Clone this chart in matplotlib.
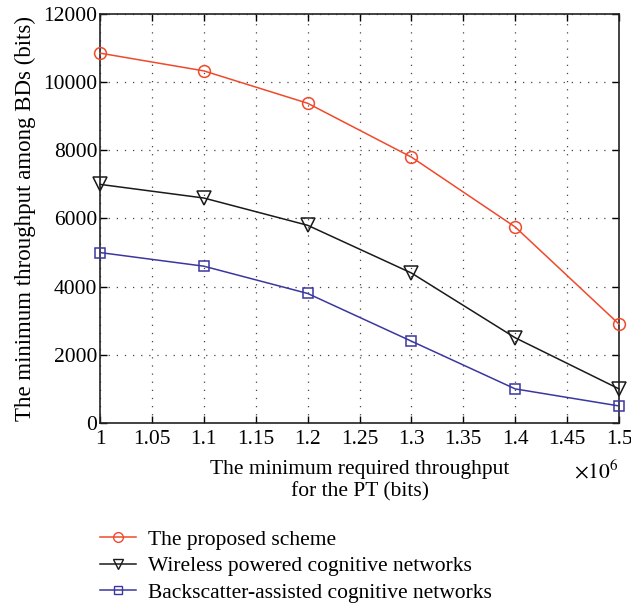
import matplotlib
matplotlib.use("Agg")
import matplotlib.pyplot as plt
from matplotlib.lines import Line2D

x_vals = [1.0, 1.1, 1.2, 1.3, 1.4, 1.5]
proposed = [10850, 10330, 9380, 7800, 5750, 2900]
wireless = [7000, 6600, 5800, 4400, 2500, 1000]
backscatter = [5000, 4600, 3800, 2400, 1000, 500]
labels = ["The proposed scheme", "Wireless powered cognitive networks",
          "Backscatter-assisted cognitive networks"]
x_ticks = [1, 1.05, 1.1, 1.15, 1.2, 1.25, 1.3, 1.35, 1.4, 1.45, 1.5]
x_tick_labels = ["1", "1.05", "1.1", "1.15", "1.2", "1.25", "1.3", "1.35", "1.4", "1.45", "1.5"]
y_ticks = [0, 2000, 4000, 6000, 8000, 10000, 12000]

plt.rcParams['font.family'] = ['Liberation Serif', 'DejaVu Serif']
plt.rcParams['mathtext.fontset'] = 'stix'
FS = 15.5

fig = plt.figure(figsize=(6.31, 6.06), dpi=100)
ax = fig.add_axes([0.1585, 0.302, 0.8225, 0.675])

red = '#f0492b'
blk = '#1a1a1a'
blu = '#3a37a0'
ax.plot(x_vals, proposed, color=red, lw=1.1, marker='o', ms=8.5, mfc='none', mec=red, mew=1.1, clip_on=False, zorder=3)
ax.plot(x_vals, wireless, color=blk, lw=1.1, marker='v', ms=10, mfc='none', mec=blk, mew=1.1, clip_on=False, zorder=3)
ax.plot(x_vals, backscatter, color=blu, lw=1.1, marker='s', ms=7, mfc='none', mec=blu, mew=1.1, clip_on=False, zorder=3)

ax.set_xlim(1, 1.5)
ax.set_ylim(0, 12000)
ax.set_xticks(x_ticks)
ax.set_xticklabels(x_tick_labels, fontsize=FS)
ax.set_yticks(y_ticks)
ax.set_yticklabels([str(v) for v in y_ticks], fontsize=FS)
ax.tick_params(direction='in', length=5, width=1, top=True, right=True)
ax.tick_params(axis='x', pad=5)
ax.tick_params(axis='y', pad=2)
ax.grid(True, linestyle=(0, (1, 5.5)), color='#444444', lw=0.9)
for s in ax.spines.values():
    s.set_linewidth(1.2)
    s.set_color('#222222')

ax.set_xlabel("The minimum required throughput\nfor the PT (bits)", fontsize=FS, labelpad=8, linespacing=1.2)
ax.set_ylabel("The minimum throughput among BDs (bits)", fontsize=16.5, labelpad=5)
ax.text(1.0, -0.09, r"$\times10^{6}$", transform=ax.transAxes, ha='right', va='top', fontsize=FS)

handles = [
    Line2D([], [], color=red, lw=1.1, marker='o', ms=7, mfc='none', mec=red),
    Line2D([], [], color=blk, lw=1.1, marker='v', ms=7, mfc='none', mec=blk),
    Line2D([], [], color=blu, lw=1.1, marker='s', ms=5.5, mfc='none', mec=blu),
]
fig.legend(handles, labels, loc='upper left', bbox_to_anchor=(0.145, 0.14), frameon=False,
           fontsize=FS, handlelength=1.65, handletextpad=0.56, labelspacing=0.3, borderaxespad=0)

fig.savefig("out.png", dpi=100)
